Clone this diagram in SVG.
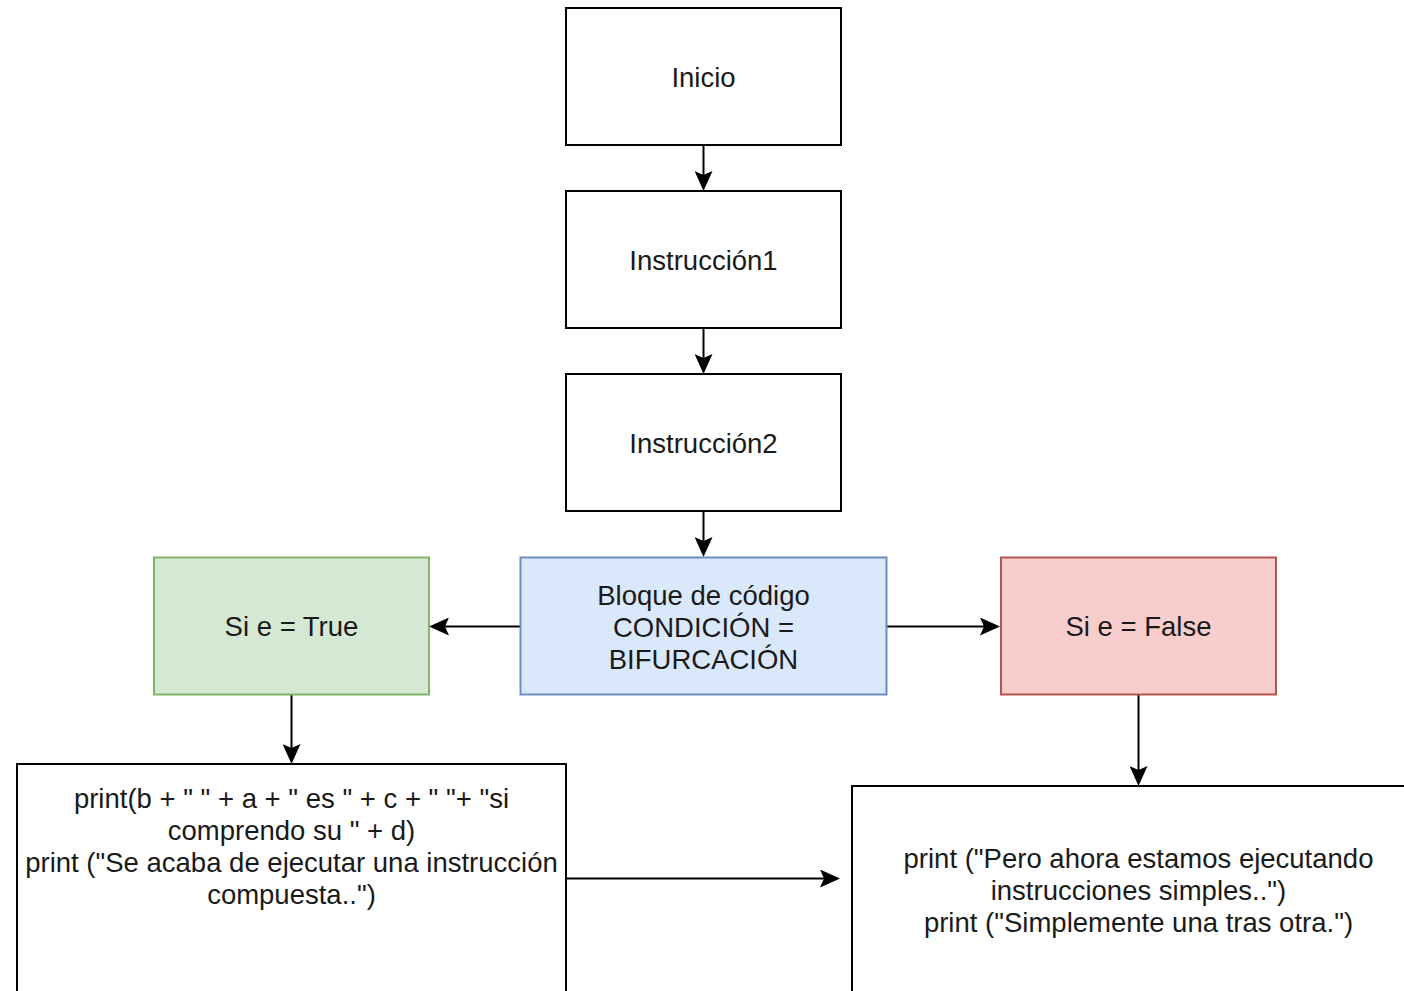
<svg xmlns="http://www.w3.org/2000/svg" width="1404" height="991" viewBox="0 0 1404 991">
<style>
.box{fill:#ffffff;stroke:#000000;stroke-width:2}
.green{fill:#d5e8d4;stroke:#82b366;stroke-width:2}
.blue{fill:#dae8fc;stroke:#6c8ebf;stroke-width:2}
.red{fill:#f8cecc;stroke:#b85450;stroke-width:2}
text{font-family:"Liberation Sans",Arial,sans-serif;font-size:27.5px;fill:#1a1a1a;text-anchor:middle}
.edge{stroke:#000000;stroke-width:2;fill:none;marker-end:url(#arrow)}
</style>
<defs>
<marker id="arrow" markerUnits="userSpaceOnUse" markerWidth="20" markerHeight="18" viewBox="0 0 20 18" refX="4" refY="9" orient="auto">
<path d="M0,0 L20,9 L0,18 L4,9 Z" fill="#000000"/>
</marker>
</defs>
<rect width="1404" height="991" fill="#ffffff"/>
<g id="connectors">
<line class="edge" x1="703.5" y1="145" x2="703.5" y2="175"/>
<line class="edge" x1="703.5" y1="328" x2="703.5" y2="358"/>
<line class="edge" x1="703.5" y1="511" x2="703.5" y2="541"/>
<line class="edge" x1="520" y1="626.5" x2="445" y2="626.5"/>
<line class="edge" x1="886.5" y1="626.5" x2="984" y2="626.5"/>
<line class="edge" x1="291.5" y1="694.5" x2="291.5" y2="748"/>
<line class="edge" x1="1138.5" y1="694.5" x2="1138.5" y2="770"/>
<line class="edge" x1="566" y1="878.5" x2="824" y2="878.5"/>
</g>
<g id="inicio">
<rect class="box" x="566" y="8" width="275" height="137"/>
<text x="703.5" y="86.5">Inicio</text>
</g>
<g id="instruccion1">
<rect class="box" x="566" y="191" width="275" height="137"/>
<text x="703.5" y="269.5">Instrucción1</text>
</g>
<g id="instruccion2">
<rect class="box" x="566" y="374" width="275" height="137"/>
<text x="703.5" y="452.5">Instrucción2</text>
</g>
<g id="bloque">
<rect class="blue" x="520.5" y="557.5" width="366" height="137"/>
<text x="703.5" y="604.5">Bloque de código</text>
<text x="703.5" y="636.5">CONDICIÓN =</text>
<text x="703.5" y="668.5">BIFURCACIÓN</text>
</g>
<g id="si-true">
<rect class="green" x="154" y="557.5" width="275" height="137"/>
<text x="291.5" y="636">Si e = True</text>
</g>
<g id="si-false">
<rect class="red" x="1001" y="557.5" width="275" height="137"/>
<text x="1138.5" y="636">Si e = False</text>
</g>
<g id="compuesta">
<rect class="box" x="17" y="764" width="549" height="260"/>
<text x="291.5" y="808">print(b + " " + a + " es " + c + " "+ "si</text>
<text x="291.5" y="840">comprendo su " + d)</text>
<text x="291.5" y="872">print ("Se acaba de ejecutar una instrucción</text>
<text x="291.5" y="904">compuesta..")</text>
</g>
<g id="simples">
<rect class="box" x="852" y="786" width="573" height="240"/>
<text x="1138.5" y="868">print ("Pero ahora estamos ejecutando</text>
<text x="1138.5" y="900">instrucciones simples..")</text>
<text x="1138.5" y="932">print ("Simplemente una tras otra.")</text>
</g>
</svg>
